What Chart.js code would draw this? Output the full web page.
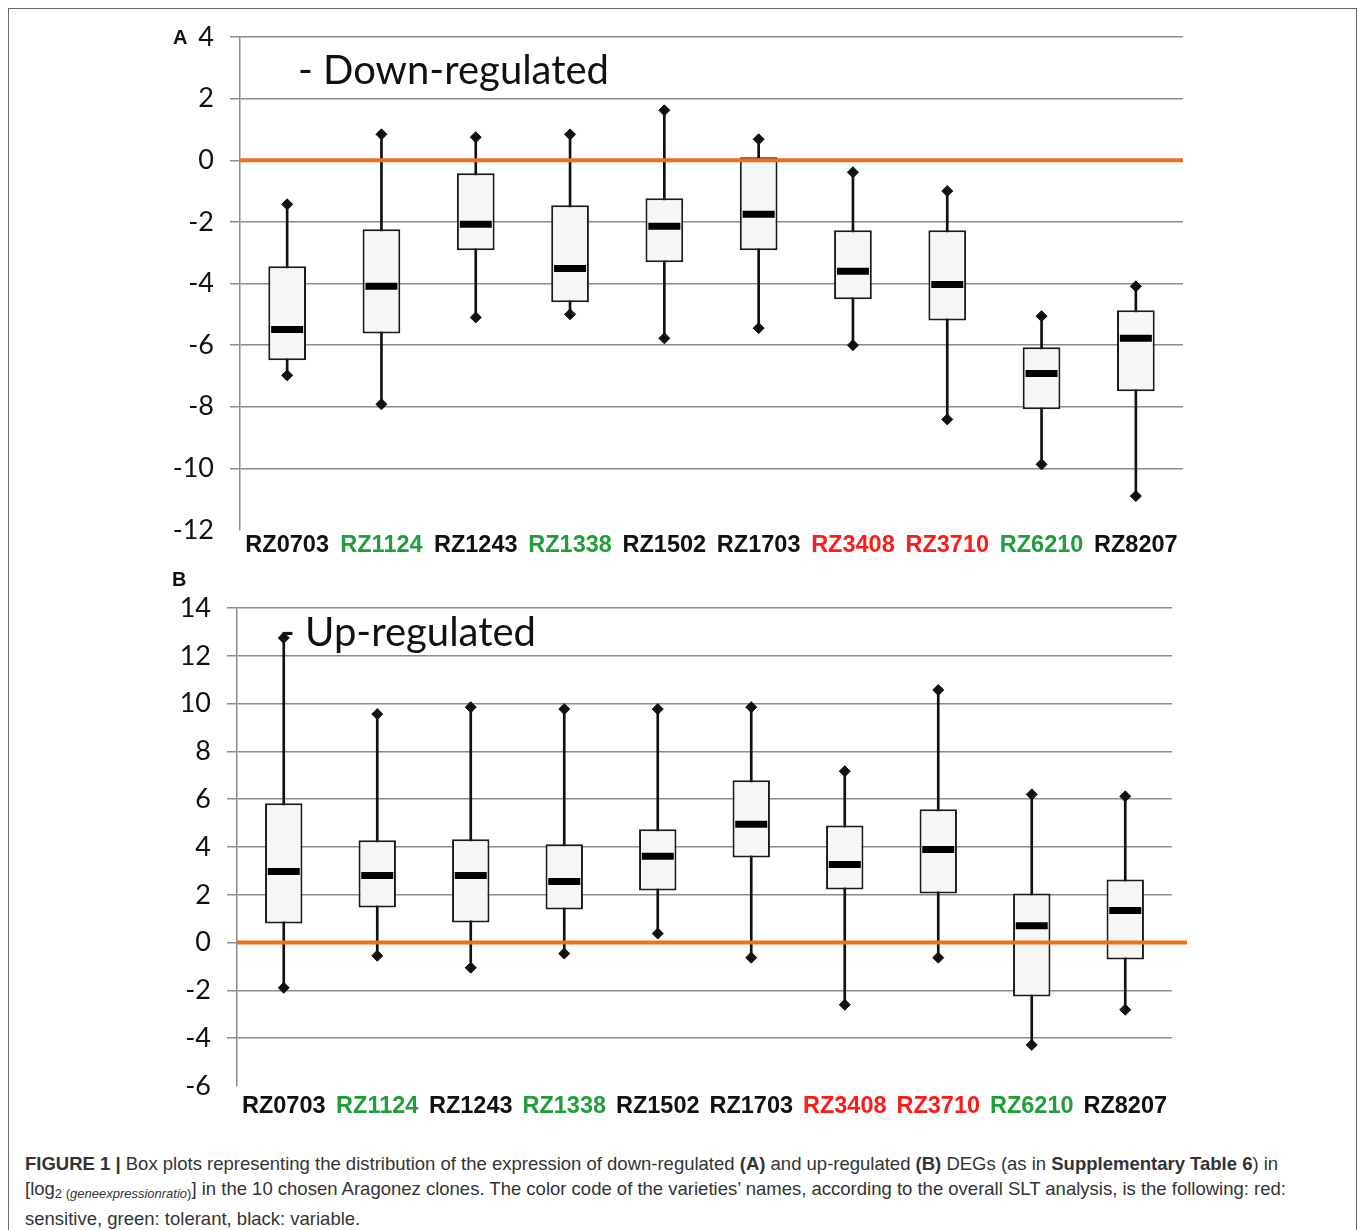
<!DOCTYPE html>
<html lang="en">
<head>
  <meta charset="UTF-8" />
  <title>Figure 1 - Box plots of down- and up-regulated DEGs</title>
  <script src="https://cdn.jsdelivr.net/npm/chart.js"></script>
  <style>
    body {
      margin: 0;
      background: #fff;
      font-family: Arial, "Liberation Sans", sans-serif;
      width: 1358px;
      height: 1230px;
      overflow: hidden;
      position: relative;
    }
    #frame {
      position: absolute;
      left: 8px;
      top: 8px;
      width: 1349px;
      height: 1250px;
      border: 1.5px solid #666;
      box-sizing: border-box;
    }
    canvas {
      position: absolute;
      left: 0;
    }
    .panel-letter {
      position: absolute;
      font: bold 20px Arial, "Liberation Sans", sans-serif;
      line-height: 1;
      color: #111;
    }
    .title {
      position: absolute;
      font: 40px Lato, "Open Sans", sans-serif;
      line-height: 1;
      color: #111;
      white-space: nowrap;
    }
    #caption {
      position: absolute;
      left: 25px;
      top: 1151px;
      font-size: 18.5px;
      line-height: 25px;
      color: #333;
      white-space: nowrap;
    }
    #caption sub {
      font-size: 13px;
      vertical-align: -3px;
    }
  </style>
</head>
<body>
  <div id="frame"></div>

  <canvas id="downChart" width="1358" height="575" style="top:0px"></canvas>
  <canvas id="upChart" width="1358" height="560" style="top:575px"></canvas>

  <div class="panel-letter" style="left:173px; top:27px">A</div>
  <div class="panel-letter" style="left:172px; top:569px">B</div>
  <div class="title" style="left:298px; top:49px">- Down-regulated</div>
  <div class="title" style="left:280px; top:611px">- Up-regulated</div>

  <div id="caption">
    <b>FIGURE 1 |</b> Box plots representing the distribution of the expression of down-regulated <b>(A)</b> and up-regulated <b>(B)</b> DEGs (as in <b>Supplementary Table 6</b>) in<br>
    [log<sub>2 (<i>geneexpressionratio</i>)</sub>] in the 10 chosen Aragonez clones. The color code of the varieties’ names, according to the overall SLT analysis, is the following: red:<br>
    sensitive, green: tolerant, black: variable.
  </div>

  <script>
    const clones = ["RZ0703", "RZ1124", "RZ1243", "RZ1338", "RZ1502", "RZ1703", "RZ3408", "RZ3710", "RZ6210", "RZ8207"];
    // red: sensitive, green: tolerant, black: variable
    const cloneColors = ["#111", "#1f9e3a", "#111", "#1f9e3a", "#111", "#111", "#ff1a1a", "#ff1a1a", "#1f9e3a", "#111"];

    // A - down-regulated
    const downMin = [-6.98, -7.92, -5.10, -5.00, -5.78, -5.45, -6.00, -8.41, -9.87, -10.90];
    const downQ1 = [-6.49, -5.62, -2.92, -4.61, -3.31, -2.92, -4.51, -5.20, -8.08, -7.50];
    const downMedian = [-5.49, -4.09, -2.08, -3.51, -2.14, -1.75, -3.60, -4.03, -6.92, -5.78];
    const downQ3 = [-3.44, -2.24, -0.42, -1.46, -1.23, 0.10, -2.27, -2.27, -6.07, -4.87];
    const downMax = [-1.43, 0.84, 0.75, 0.84, 1.62, 0.68, -0.39, -1.00, -5.06, -4.09];

    // B - up-regulated
    const upMin = [-1.89, -0.55, -1.05, -0.46, 0.38, -0.63, -2.60, -0.63, -4.28, -2.81];
    const upQ1 = [0.80, 1.47, 0.84, 1.38, 2.18, 3.56, 2.22, 2.05, -2.26, -0.71];
    const upMedian = [2.98, 2.81, 2.81, 2.56, 3.61, 4.95, 3.27, 3.90, 0.71, 1.34];
    const upQ3 = [5.83, 4.28, 4.32, 4.11, 4.74, 6.79, 4.90, 5.58, 2.05, 2.64];
    const upMax = [12.75, 9.56, 9.85, 9.77, 9.77, 9.85, 7.17, 10.57, 6.20, 6.12];

    const gridColor = "#8c8c8c";

    // orange reference line at y = 0, drawn over the boxes
    const zeroLine = {
      id: "zeroLine",
      afterDatasetsDraw(chart, args, opts) {
        const { ctx, chartArea } = chart;
        const y = chart.scales.y.getPixelForValue(0);
        ctx.save();
        ctx.strokeStyle = "#f07018";
        ctx.lineWidth = 4;
        ctx.beginPath();
        ctx.moveTo(chartArea.left, y);
        ctx.lineTo(chartArea.right + (opts.endOffset || 0), y);
        ctx.stroke();
        ctx.restore();
      }
    };

    function makeBoxChart(id, s) {
      const ctx = document.getElementById(id).getContext("2d");
      return new Chart(ctx, {
        type: "bar",
        data: {
          labels: clones,
          datasets: [
            {
              type: "line",
              data: s.max,
              showLine: false,
              pointStyle: "rectRot",
              pointRadius: 5.5,
              backgroundColor: "#111",
              borderColor: "#111",
              order: 0
            },
            {
              type: "line",
              data: s.min,
              showLine: false,
              pointStyle: "rectRot",
              pointRadius: 5.5,
              backgroundColor: "#111",
              borderColor: "#111",
              order: 0
            },
            {
              type: "line",
              data: s.median,
              showLine: false,
              pointStyle: "line",
              pointRadius: 16,
              pointBorderWidth: 7,
              borderColor: "#000",
              order: 1
            },
            {
              data: s.q1.map((v, i) => [v, s.q3[i]]),
              backgroundColor: "#f6f6f6",
              borderColor: "#1a1a1a",
              borderWidth: 2,
              borderSkipped: false,
              barPercentage: 0.4,
              categoryPercentage: 1,
              grouped: false,
              order: 2
            },
            {
              data: s.min.map((v, i) => [v, s.max[i]]),
              backgroundColor: "#111",
              barThickness: 2,
              grouped: false,
              order: 3
            }
          ]
        },
        options: {
          responsive: false,
          animation: false,
          devicePixelRatio: 1,
          events: [],
          layout: { padding: s.padding },
          plugins: {
            legend: { display: false },
            tooltip: { enabled: false },
            zeroLine: { endOffset: s.zeroEnd }
          },
          scales: {
            x: {
              offset: true,
              grid: { display: false, drawTicks: false },
              border: { display: false },
              ticks: {
                padding: s.xPad,
                maxRotation: 0,
                autoSkip: false,
                color: c => cloneColors[c.index],
                font: { family: "Arial, 'Liberation Sans', sans-serif", size: 23.5, weight: "bold" }
              },
              afterFit: scale => { scale.height = s.xHeight; }
            },
            y: {
              min: s.yMin,
              max: s.yMax,
              grid: {
                color: c => (c.tick && c.tick.value === s.yMin ? "rgba(0,0,0,0)" : gridColor),
                lineWidth: 1.5,
                drawTicks: true,
                tickLength: 10
              },
              border: { color: gridColor, width: 1.5 },
              ticks: {
                stepSize: 2,
                padding: s.yPad,
                color: "#111",
                font: { family: "Lato, 'Open Sans', sans-serif", size: 27 }
              },
              afterFit: scale => { scale.width = s.yWidth; }
            }
          }
        },
        plugins: [zeroLine]
      });
    }

    makeBoxChart("downChart", {
      min: downMin, q1: downQ1, median: downMedian, q3: downQ3, max: downMax,
      yMin: -12, yMax: 4,
      padding: { top: 37, right: 175, bottom: 0, left: 0 },
      yWidth: 240, yPad: 16, xHeight: 45, xPad: 1, zeroEnd: 0
    });

    makeBoxChart("upChart", {
      min: upMin, q1: upQ1, median: upMedian, q3: upQ3, max: upMax,
      yMin: -6, yMax: 14,
      padding: { top: 33, right: 186, bottom: 0, left: 0 },
      yWidth: 237, yPad: 16, xHeight: 49, xPad: 6, zeroEnd: 15
    });
  </script>
</body>
</html>
